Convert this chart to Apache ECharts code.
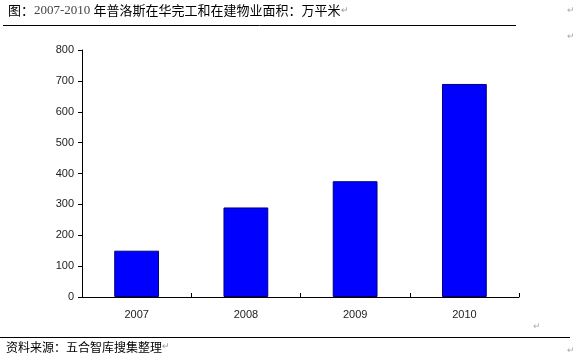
<!DOCTYPE html>
<html><head><meta charset="utf-8">
<script src="https://cdn.jsdelivr.net/npm/echarts@6/dist/echarts.min.js"></script>
<style>html,body{margin:0;padding:0;background:#fff}#c{width:578px;height:361px}</style>
</head><body><div id="c"></div>
<script>
const categories = ['2007', '2008', '2009', '2010'];
const areaValues = [150, 290, 375, 690];
const yTicks = [0, 100, 200, 300, 400, 500, 600, 700, 800];

const chart = echarts.init(document.getElementById('c'));
chart.setOption({
  animation: false,
  backgroundColor: '#fff',
  grid: { left: 82, right: 59, top: 50, bottom: 64 },
  xAxis: {
    type: 'category',
    data: categories,
    axisLine: { lineStyle: { color: '#000', width: 1 } },
    axisTick: { show: true, inside: true, length: 4, lineStyle: { color: '#000' } },
    axisLabel: { color: '#222', fontFamily: 'Liberation Sans, Arial', fontSize: 11, margin: 12 }
  },
  yAxis: {
    type: 'value',
    min: yTicks[0], max: yTicks[yTicks.length - 1], interval: 100,
    splitLine: { show: false },
    axisLine: { show: true, lineStyle: { color: '#000', width: 1 } },
    axisTick: { show: true, length: 4, lineStyle: { color: '#000' } },
    axisLabel: { color: '#222', fontFamily: 'Liberation Sans, Arial', fontSize: 11, margin: 8 }
  },
  series: [{
    type: 'bar',
    data: areaValues,
    barWidth: '41%',
    itemStyle: { color: '#0000FF', borderColor: '#00007a', borderWidth: 1 }
  }],
  graphic: [
    { type: 'text', left: 8, top: 4, style: {
      rich: {
        c: { fontFamily: 'Noto Sans CJK SC', fontSize: 13, fill: '#000' },
        n: { fontFamily: 'Liberation Serif', fontSize: 13, fill: '#444' },
        m: { fontFamily: 'Liberation Sans', fontSize: 9, fill: '#999' }
      },
      text: '{c|图：}{n|2007-2010 }{c|年普洛斯在华完工和在建物业面积：万平米}{m|↵}'
    }},
    { type: 'line', shape: { x1: 3, y1: 25.5, x2: 516, y2: 25.5 }, style: { stroke: '#000', lineWidth: 1 } },
    { type: 'text', left: 567, top: 6, style: { text: '↵', fontSize: 9, fill: '#aaa' } },
    { type: 'text', left: 567, top: 32, style: { text: '↵', fontSize: 9, fill: '#aaa' } },
    { type: 'text', left: 533, top: 322, style: { text: '↵', fontSize: 9, fill: '#aaa' } },
    { type: 'line', shape: { x1: 0, y1: 337.5, x2: 570, y2: 337.5 }, style: { stroke: '#000', lineWidth: 1 } },
    { type: 'text', left: 6, top: 341, style: {
      rich: {
        c: { fontFamily: 'Noto Sans CJK SC', fontSize: 12, fill: '#000' },
        m: { fontFamily: 'Liberation Sans', fontSize: 9, fill: '#999' }
      },
      text: '{c|资料来源：五合智库搜集整理}{m|↵}'
    }},
    { type: 'text', left: 567, top: 346, style: { text: '↵', fontSize: 9, fill: '#aaa' } }
  ]
});
</script></body></html>
